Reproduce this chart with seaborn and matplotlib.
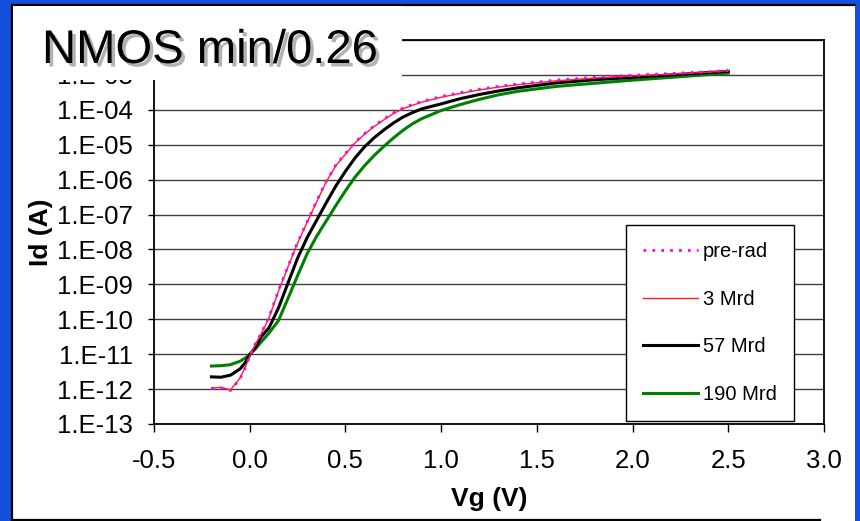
import numpy as np
import pandas as pd
import matplotlib
matplotlib.use("Agg")
import matplotlib.pyplot as plt
import matplotlib.patheffects as pe
from matplotlib.patches import Rectangle
from matplotlib.lines import Line2D
from matplotlib.ticker import FixedLocator, FuncFormatter
import seaborn as sns

plt.rcParams["font.family"] = ["Liberation Sans", "DejaVu Sans"]

# Gate voltage sweep (V)
vg = [-0.2, -0.15, -0.1, -0.05, -0.02, 0.0, 0.03, 0.06, 0.1, 0.15, 0.2, 0.25,
      0.3, 0.35, 0.4, 0.45, 0.5, 0.55, 0.6, 0.65, 0.7, 0.75, 0.8, 0.85, 0.9,
      1.0, 1.1, 1.2, 1.3, 1.4, 1.6, 1.8, 2.0, 2.2, 2.4, 2.5]

# log10 of drain current (A) for each total dose
log_id_prerad = [-11.98, -11.97, -12.04, -11.70, -11.35, -11.06, -10.70, -10.40,
                 -9.95, -9.18, -8.48, -7.80, -7.20, -6.61, -6.04, -5.58, -5.25,
                 -4.93, -4.68, -4.46, -4.27, -4.09, -3.95, -3.85, -3.76, -3.62,
                 -3.51, -3.41, -3.33, -3.26, -3.15, -3.07, -3.01, -2.96, -2.91,
                 -2.87]
log_id_3mrd = [-11.97, -11.95, -12.02, -11.68, -11.33, -11.05, -10.72, -10.42,
               -9.97, -9.20, -8.50, -7.82, -7.22, -6.63, -6.06, -5.60, -5.27,
               -4.95, -4.70, -4.48, -4.29, -4.11, -3.97, -3.87, -3.78, -3.64,
               -3.53, -3.43, -3.35, -3.28, -3.17, -3.09, -3.03, -2.98, -2.92,
               -2.88]
log_id_57mrd = [-11.65, -11.66, -11.60, -11.42, -11.22, -11.02, -10.80, -10.50,
                -10.25, -9.68, -8.96, -8.25, -7.66, -7.16, -6.66, -6.18, -5.76,
                -5.38, -5.06, -4.80, -4.58, -4.38, -4.21, -4.08, -3.97, -3.83,
                -3.68, -3.56, -3.46, -3.37, -3.23, -3.14, -3.07, -3.00, -2.93,
                -2.90]
log_id_190mrd = [-11.34, -11.33, -11.30, -11.20, -11.10, -11.00, -10.85, -10.65,
                 -10.40, -10.04, -9.40, -8.75, -8.12, -7.62, -7.18, -6.74, -6.32,
                 -5.93, -5.60, -5.31, -5.05, -4.81, -4.59, -4.40, -4.25, -4.02,
                 -3.85, -3.70, -3.57, -3.47, -3.33, -3.24, -3.15, -3.07, -2.99,
                 -2.95]

series_labels = ["pre-rad", "3 Mrd", "57 Mrd", "190 Mrd"]
series_logs = [log_id_prerad, log_id_3mrd, log_id_57mrd, log_id_190mrd]

x_ticks = [-0.5, 0.0, 0.5, 1.0, 1.5, 2.0, 2.5, 3.0]
y_exponents = list(range(-13, -1))

frames = []
for name, logs in zip(series_labels, series_logs):
    frames.append(pd.DataFrame({"Vg": vg, "Id": np.power(10.0, logs), "dose": name}))
df = pd.concat(frames, ignore_index=True)

W, H = 860, 521
fig = plt.figure(figsize=(W / 100, H / 100), dpi=100)
fig.patch.set_facecolor("#1550dc")


def fx(x):
    return x / W


def fy(y):
    return 1 - y / H


# white slide panel with its dark border
fig.patches.append(Rectangle((fx(12), fy(521)), fx(855) - fx(12), fy(5) - fy(521),
                             transform=fig.transFigure, facecolor="white",
                             edgecolor="none", zorder=-5))
for xs, ys in [((12, 12), (5, 521)), ((12, 855), (5, 5)), ((12, 820), (519.5, 519.5))]:
    fig.lines.append(Line2D([fx(v) for v in xs], [fy(v) for v in ys],
                            transform=fig.transFigure, color="black", lw=1.6, zorder=-4))

ax = fig.add_axes([fx(154), fy(424), fx(824) - fx(154), fy(40) - fy(424)])
ax.set_facecolor("white")

styles = {
    "190 Mrd": dict(color="#008000", lw=2.2, ls="-", z=2),
    "57 Mrd": dict(color="black", lw=2.2, ls="-", z=3),
    "3 Mrd": dict(color="#ff2020", lw=1.0, ls="-", z=4),
    "pre-rad": dict(color="#ff00ff", lw=2.0, ls=(0, (1, 2.2)), z=5),
}
handles = {}
for name in ["190 Mrd", "57 Mrd", "3 Mrd", "pre-rad"]:
    st = styles[name]
    sub = df[df["dose"] == name]
    sns.lineplot(data=sub, x="Vg", y="Id", ax=ax, color=st["color"], lw=st["lw"],
                 linestyle=st["ls"], zorder=st["z"], estimator=None, sort=False,
                 label=name)
    handles[name] = ax.lines[-1]

ax.set_yscale("log")
ax.set_xlim(-0.5, 3.0)
ax.set_ylim(1e-13, 1e-2)
ax.xaxis.set_major_locator(FixedLocator(x_ticks))
ax.xaxis.set_major_formatter(FuncFormatter(lambda v, p: f"{v:.1f}"))
ax.yaxis.set_major_locator(FixedLocator([10.0 ** e for e in y_exponents]))
ax.yaxis.set_minor_locator(FixedLocator([]))


def decade_label(v, pos):
    e = int(round(np.log10(v)))
    # the top decade label sits under the title box
    if e >= -2:
        return ""
    return "1.E-{:02d}".format(-e)


ax.yaxis.set_major_formatter(FuncFormatter(decade_label))

ax.grid(axis="y", color="#404040", lw=1.0)
ax.grid(axis="x", visible=False)
ax.set_axisbelow(True)
for s in ax.spines.values():
    s.set_color("black")
    s.set_linewidth(1.3)
    s.set_zorder(6)

ax.tick_params(axis="y", direction="out", length=4.3, width=1, labelsize=18.5,
               pad=10.8, colors="black")
ax.tick_params(axis="x", direction="out", length=5.8, width=1, labelsize=18.5,
               pad=12.5, colors="black")

ax.set_xlabel("Vg (V)", fontsize=19, fontweight="bold", labelpad=9.5)
ax.set_ylabel("Id (A)", fontsize=19, fontweight="bold", labelpad=3)

leg = ax.legend([handles[n] for n in series_labels], series_labels,
                loc="upper left", bbox_to_anchor=(0.7045, 0.518), borderaxespad=0,
                fontsize=14.5, frameon=True, fancybox=False, edgecolor="black",
                framealpha=1, handlelength=2.7, handletextpad=0.25,
                labelspacing=1.42, borderpad=0.85)
leg.get_frame().set_linewidth(1.0)
leg.set_zorder(10)

# title box laid over the upper left of the plot
fig.patches.append(Rectangle((fx(13), fy(80)), fx(402) - fx(13), fy(6) - fy(80),
                             transform=fig.transFigure, facecolor="white",
                             edgecolor="none", zorder=5))
fig.text(fx(42), fy(63), "NMOS min/0.26", fontsize=34, color="black",
         ha="left", va="baseline", zorder=6,
         path_effects=[pe.withSimplePatchShadow(offset=(2.5, -2.5),
                                                shadow_rgbFace="#808080", alpha=0.6)])

fig.savefig("out.png", dpi=100, facecolor=fig.get_facecolor())
